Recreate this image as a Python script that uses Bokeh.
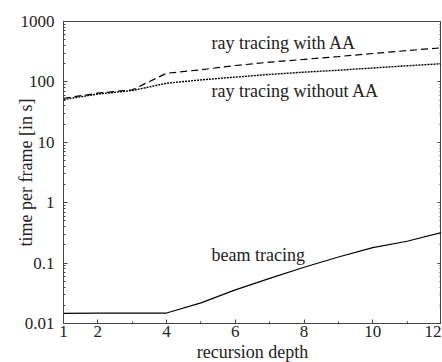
from bokeh.plotting import figure
from bokeh.models import Range1d, FixedTicker, LogAxis
from bokeh.core.properties import value
from bokeh.embed import file_html
from bokeh.resources import INLINE

depth = [1, 2, 3, 4, 5, 6, 7, 8, 9, 10, 11, 12]
ray_aa = [53.6, 65, 74, 139, 159, 187, 212, 236, 263, 295, 330, 367]
ray_noaa = [51, 63, 72, 95, 108, 120, 133, 145, 156, 170, 185, 200]
beam = [0.0147, 0.0148, 0.0148, 0.0149, 0.022, 0.036, 0.056, 0.0855, 0.126, 0.18, 0.23, 0.32]

x_ticks = [1, 2, 4, 6, 8, 10, 12]
x_minor = [3, 5, 7, 9, 11]
y_ticks = [0.01, 0.1, 1, 10, 100, 1000]
y_tick_labels = ["0.01", "0.1", "1", "10", "100", "1000"]

series_names = ["ray tracing with AA", "ray tracing without AA", "beam tracing"]

FONT = "Liberation Serif"
AX = "#444444"

p = figure(frame_width=378, frame_height=302, y_axis_type="log",
           x_range=Range1d(1, 12), y_range=Range1d(0.01, 1000),
           output_backend="svg", toolbar_location=None,
           min_border_left=63, min_border_right=0, min_border_top=21, min_border_bottom=39,
           background_fill_color="white", border_fill_color="white")
p.xgrid.visible = False
p.ygrid.visible = False
p.outline_line_color = AX
p.outline_line_width = 1

y_minor = []
for t in y_ticks[:-1]:
    for k in range(2, 10):
        y_minor.append(t * k)

p.xaxis.ticker = FixedTicker(ticks=x_ticks, minor_ticks=x_minor)
p.yaxis.ticker = FixedTicker(ticks=y_ticks, minor_ticks=y_minor)
p.yaxis.major_label_overrides = {t: l for t, l in zip(y_ticks, y_tick_labels)}

for ax in [p.xaxis[0], p.yaxis[0]]:
    ax.major_tick_in = 4
    ax.major_tick_out = 0
    ax.minor_tick_in = 2
    ax.minor_tick_out = 0
    ax.axis_line_color = AX
    ax.major_tick_line_color = AX
    ax.minor_tick_line_color = AX
    ax.major_label_text_font = FONT
    ax.major_label_text_font_size = "17px"
    ax.major_label_text_color = "#222222"
    ax.axis_label_text_font = FONT
    ax.axis_label_text_font_size = "18px"
    ax.axis_label_text_font_style = "normal"
    ax.axis_label_text_color = "#222222"
p.xaxis.major_label_standoff = 2
p.yaxis.major_label_standoff = 9
p.xaxis.axis_label = "recursion depth"
p.xaxis.axis_label_standoff = 2
p.yaxis.axis_label = "time per frame [in s]"
p.yaxis.axis_label_standoff = -18

right = LogAxis(ticker=FixedTicker(ticks=y_ticks, minor_ticks=y_minor),
                major_label_text_color=None, major_label_text_font_size="1px",
                major_label_standoff=0,
                major_tick_in=4, major_tick_out=0, minor_tick_in=2, minor_tick_out=0,
                axis_line_color=AX, major_tick_line_color=AX, minor_tick_line_color=AX)
right.major_label_overrides = {t: " " for t in y_ticks}
p.add_layout(right, "right")

p.line(depth, ray_aa, line_color="black", line_width=1.2, line_dash="7 4")
p.line(depth, ray_noaa, line_color="black", line_width=1.4, line_dash="2 1")
p.line(depth, beam, line_color="black", line_width=1.2)

p.text(x=[5.31, 5.31, 5.31], y=[433, 72, 0.134], text=series_names,
       text_font=value(FONT), text_font_size="18px", text_color="#222222",
       text_baseline="middle", text_align="left")

open("out.html", "w").write(file_html(p, INLINE))
